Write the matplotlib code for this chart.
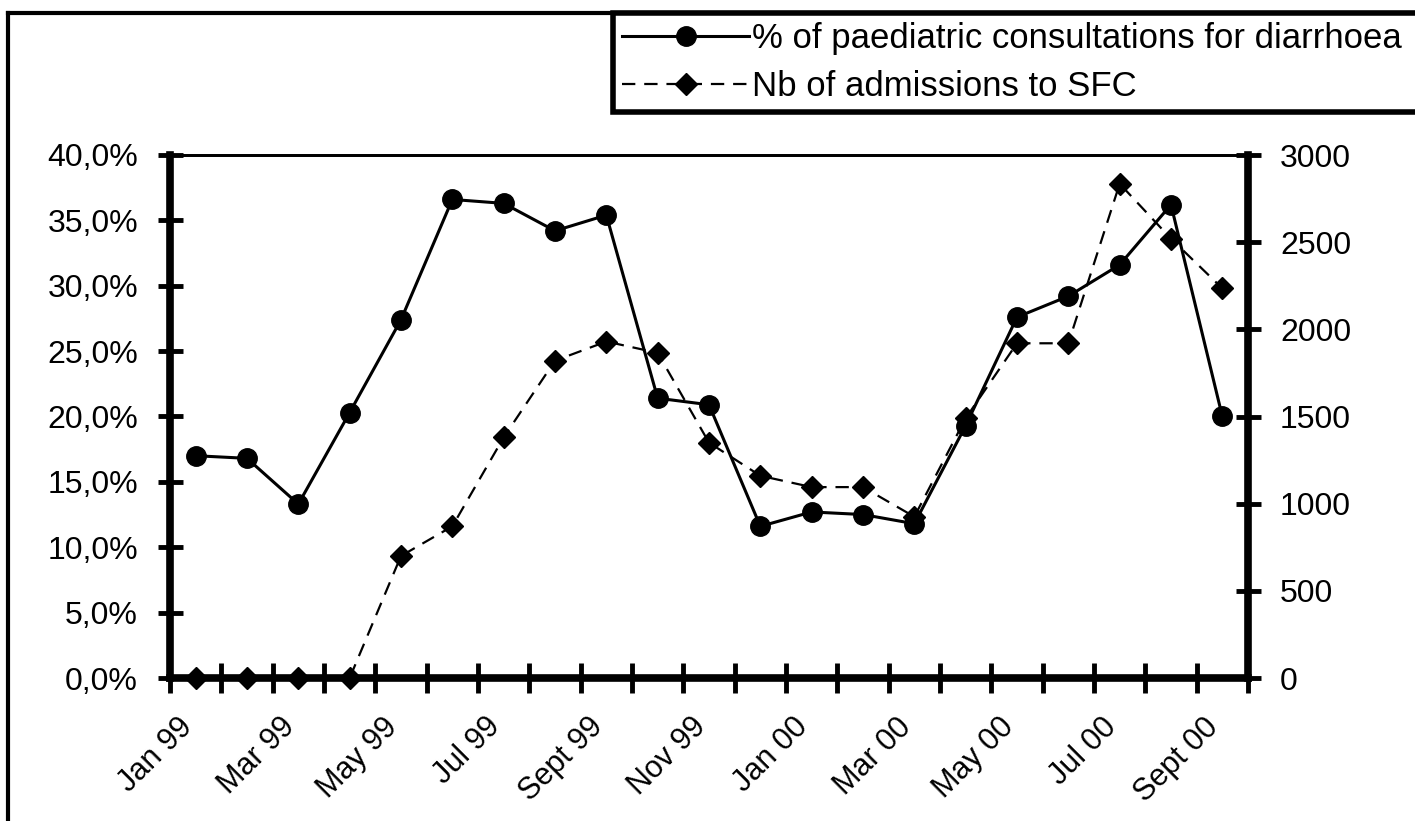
import numpy as np
import matplotlib
matplotlib.use("Agg")
import matplotlib.pyplot as plt
import matplotlib.transforms as mtransforms
from matplotlib.lines import Line2D
from matplotlib.ticker import FuncFormatter

# Monthly series, Jan 1999 - Sept 2000
months = ["Jan 99", "Feb 99", "Mar 99", "Apr 99", "May 99", "Jun 99", "Jul 99",
          "Aug 99", "Sept 99", "Oct 99", "Nov 99", "Dec 99", "Jan 00", "Feb 00",
          "Mar 00", "Apr 00", "May 00", "Jun 00", "Jul 00", "Aug 00", "Sept 00"]
diarrhoea_pct = [17.0, 16.8, 13.3, 20.3, 27.4, 36.6, 36.3, 34.2, 35.4, 21.4, 20.9,
                 11.6, 12.7, 12.5, 11.8, 19.3, 27.6, 29.2, 31.6, 36.2, 20.0]
sfc_admissions = [0, 0, 0, 0, 700, 870, 1380, 1820, 1930, 1865, 1350,
                  1160, 1095, 1095, 925, 1490, 1920, 1920, 2835, 2520, 2235]
pct_ticks = [0, 5, 10, 15, 20, 25, 30, 35, 40]
count_ticks = [0, 500, 1000, 1500, 2000, 2500, 3000]
label_pct = "% of paediatric consultations for diarrhoea"
label_sfc = "Nb of admissions to SFC"

plt.rcParams["font.family"] = ["Liberation Sans", "DejaVu Sans"]

W, H = 1415, 821
fig = plt.figure(figsize=(W / 100, H / 100), dpi=100)
fig.patch.set_facecolor("white")

# plot area in pixel terms
left, right, top, bottom = 170, 1248, 155, 678
ax = fig.add_axes([left / W, 1 - bottom / H, (right - left) / W, (bottom - top) / H])
ax2 = ax.twinx()

x = np.arange(len(months))

l1, = ax.plot(x, diarrhoea_pct, color="black", lw=2.2, marker="o", ms=14,
              clip_on=False, zorder=4)
l2, = ax2.plot(x, sfc_admissions, color="black", lw=1.6, ls=(0, (6, 4)),
               marker="D", ms=11, clip_on=False, zorder=3)

ax.set_xlim(-0.5, len(months) - 0.5)
ax.set_ylim(pct_ticks[0], pct_ticks[-1])
ax2.set_ylim(count_ticks[0], count_ticks[-1])

ax.set_yticks(pct_ticks)
ax.yaxis.set_major_formatter(FuncFormatter(lambda v, p: f"{v:.1f}".replace(".", ",") + "%"))
ax2.set_yticks(count_ticks)
ax2.set_yticklabels([str(v) for v in count_ticks])

# category boundaries carry the tick marks, labels sit on every other month
ax.set_xticks(np.arange(-0.5, len(months), 1.0))
ax.set_xticklabels([])
ax.set_xticks(x[::2], labels=[months[i] for i in x[::2]], minor=True)
ax.tick_params(axis="x", which="major", direction="inout", length=22, width=3.5)
ax.tick_params(axis="x", which="minor", length=0, pad=32, labelsize=22)
shift = mtransforms.ScaledTranslation(-0.08, 0, fig.dpi_scale_trans)
for lbl in ax.get_xticklabels(minor=True):
    lbl.set_rotation(45)
    lbl.set_ha("right")
    lbl.set_va("center")
    lbl.set_rotation_mode("anchor")
    lbl.set_transform(lbl.get_transform() + shift)

ax.tick_params(axis="y", direction="inout", length=18, width=3.5, labelsize=23, pad=14)
ax2.tick_params(axis="y", direction="inout", length=18, width=3.5, labelsize=23, pad=14)

for a in (ax, ax2):
    a.set_facecolor("none")
    a.spines["top"].set_linewidth(2)
ax.spines["left"].set_linewidth(5.5)
ax.spines["bottom"].set_linewidth(5.5)
ax.spines["right"].set_visible(False)
ax2.spines["right"].set_linewidth(5.5)
ax2.spines["left"].set_visible(False)
ax2.spines["bottom"].set_visible(False)

# outer frame of the figure
fig.add_artist(Line2D([8 / W, 8 / W], [0, 1 - 13 / H], transform=fig.transFigure,
                      color="black", lw=3))
fig.add_artist(Line2D([8 / W, 1], [1 - 13 / H, 1 - 13 / H], transform=fig.transFigure,
                      color="black", lw=3))

leg = fig.legend([l1, l2], [label_pct, label_sfc], loc="upper left",
                 bbox_to_anchor=(613 / W, 1 - 13 / H, (W - 613 + 30) / W, 0),
                 mode="expand", borderaxespad=0, fontsize=25, handlelength=3.66,
                 handletextpad=0.09, borderpad=0.26, labelspacing=0.43,
                 fancybox=False, framealpha=1, edgecolor="black")
leg.get_frame().set_linewidth(4)

fig.savefig("out.png", dpi=100, facecolor="white")
